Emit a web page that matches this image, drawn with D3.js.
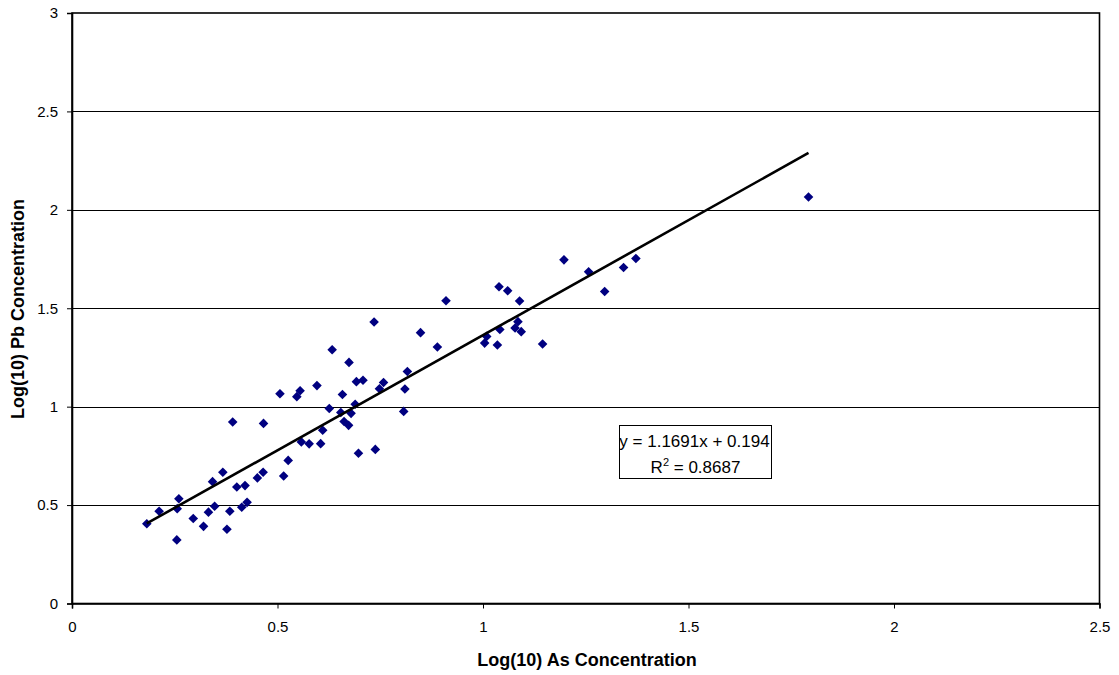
<!DOCTYPE html>
<html>
<head>
<meta charset="utf-8">
<script src="https://d3js.org/d3.v7.min.js"></script>
<style>
  body { margin: 0; background: #fff; }
  svg { display: block; font-family: Arial, "Liberation Sans", sans-serif; }
</style>
</head>
<body>
<svg id="chart" width="1119" height="675"></svg>
<script>
// Log10 As concentration (x) vs log10 Pb concentration (y) for each sample
const asLog = [
  0.182, 0.212, 0.260, 0.256, 0.255, 0.295, 0.320, 0.332, 0.347, 0.377,
  0.384, 0.413, 0.426, 0.342, 0.367, 0.401, 0.421, 0.391, 0.466, 0.451,
  0.465, 0.515, 0.526, 0.558, 0.577, 0.605, 0.610, 0.626, 0.506, 0.547,
  0.555, 0.596, 0.633, 0.674, 0.735, 0.692, 0.708, 0.658, 0.654, 0.679,
  0.689, 0.662, 0.673, 0.697, 0.738, 0.807, 0.810, 0.816, 0.748, 0.758,
  0.848, 0.889, 0.910, 1.039, 1.060, 1.089, 1.197, 1.257, 1.296, 1.342,
  1.372, 1.004, 1.009, 1.041, 1.035, 1.078, 1.085, 1.093, 1.145, 1.792
];
const pbLog = [
  0.405, 0.469, 0.532, 0.482, 0.323, 0.432, 0.392, 0.464, 0.494, 0.377,
  0.469, 0.489, 0.514, 0.619, 0.667, 0.592, 0.599, 0.922, 0.915, 0.638,
  0.667, 0.648, 0.727, 0.821, 0.811, 0.812, 0.880, 0.991, 1.066, 1.051,
  1.081, 1.107, 1.289, 1.225, 1.430, 1.127, 1.134, 1.062, 0.970, 0.966,
  1.012, 0.925, 0.905, 0.763, 0.783, 0.976, 1.090, 1.179, 1.091, 1.123,
  1.376, 1.303, 1.538, 1.609, 1.589, 1.537, 1.746, 1.685, 1.585, 1.707,
  1.753, 1.323, 1.357, 1.392, 1.313, 1.400, 1.432, 1.381, 1.318, 2.065
];

// Least-squares fit reported for the data
const slope = 1.1691;
const intercept = 0.194;
const rSquared = 0.8687;

const xTicks = [0, 0.5, 1, 1.5, 2, 2.5];
const yTicks = [0, 0.5, 1, 1.5, 2, 2.5, 3];
const xTitle = "Log(10) As Concentration";
const yTitle = "Log(10) Pb Concentration";

const svg = d3.select("#chart");
const plotLeft = 72, plotRight = 1099.5, plotTop = 13, plotBottom = 603.5;

const x = d3.scaleLinear().domain([0, 2.5]).range([plotLeft, plotRight]);
const y = d3.scaleLinear().domain([0, 3]).range([plotBottom, plotTop]);

// Horizontal gridlines
svg.append("g")
  .selectAll("line")
  .data(yTicks.filter(t => t > 0 && t < 3))
  .join("line")
  .attr("x1", plotLeft).attr("x2", plotRight)
  .attr("y1", d => Math.round(y(d)) + 0.5).attr("y2", d => Math.round(y(d)) + 0.5)
  .attr("stroke", "#000").attr("stroke-width", 1);

// Plot area frame
svg.append("rect")
  .attr("x", plotLeft).attr("y", plotTop)
  .attr("width", plotRight - plotLeft).attr("height", plotBottom - plotTop)
  .attr("fill", "none").attr("stroke", "#000").attr("stroke-width", 1.6);

// Axes
const xAxis = svg.append("g")
  .attr("transform", `translate(0,${plotBottom})`)
  .call(d3.axisBottom(x).tickValues(xTicks).tickFormat(d3.format("")).tickSizeOuter(0).tickSize(5).tickPadding(13));
const yAxis = svg.append("g")
  .attr("transform", `translate(${plotLeft},0)`)
  .call(d3.axisLeft(y).tickValues(yTicks).tickFormat(d3.format("")).tickSizeOuter(0).tickSize(5).tickPadding(9));
[xAxis, yAxis].forEach(a => {
  a.select(".domain").attr("stroke", "#000").attr("stroke-width", 1.6);
  a.selectAll(".tick line").attr("stroke", "#000");
  a.selectAll(".tick text")
    .attr("fill", "#000")
    .style("font-size", "15px")
    .style("font-family", "Arial, 'Liberation Sans', sans-serif");
});

// Sample points as diamonds
const pts = asLog.map((v, i) => [v, pbLog[i]]);
const h = 4.8;
svg.append("g")
  .selectAll("path")
  .data(pts)
  .join("path")
  .attr("d", d => {
    const cx = x(d[0]), cy = y(d[1]);
    return `M${cx},${cy - h}L${cx + h},${cy}L${cx},${cy + h}L${cx - h},${cy}Z`;
  })
  .attr("fill", "#000080");

// Linear trendline over the observed As range
const xMin = d3.min(asLog), xMax = d3.max(asLog);
svg.append("line")
  .attr("x1", x(xMin)).attr("y1", y(slope * xMin + intercept))
  .attr("x2", x(xMax)).attr("y2", y(slope * xMax + intercept))
  .attr("stroke", "#000").attr("stroke-width", 2.6);

// Equation label
const box = svg.append("g").attr("transform", "translate(619.5,425.5)");
box.append("rect")
  .attr("width", 152).attr("height", 53)
  .attr("fill", "#fff").attr("stroke", "#000").attr("stroke-width", 1);
box.append("text")
  .attr("x", 75).attr("y", 21)
  .attr("text-anchor", "middle")
  .style("font-size", "17px")
  .text(`y = ${slope}x + ${intercept}`);
const r2 = box.append("text")
  .attr("x", 76).attr("y", 47)
  .attr("text-anchor", "middle")
  .style("font-size", "17px");
r2.append("tspan").text("R");
r2.append("tspan").attr("dy", -7).style("font-size", "11px").text("2");
r2.append("tspan").attr("dy", 7).text(` = ${rSquared}`);

// Axis titles
svg.append("text")
  .attr("x", 587).attr("y", 666)
  .attr("text-anchor", "middle")
  .style("font-size", "18px").style("font-weight", "bold")
  .text(xTitle);
svg.append("text")
  .attr("transform", `translate(24,309) rotate(-90)`)
  .attr("text-anchor", "middle")
  .style("font-size", "18px").style("font-weight", "bold")
  .text(yTitle);
</script>
</body>
</html>
